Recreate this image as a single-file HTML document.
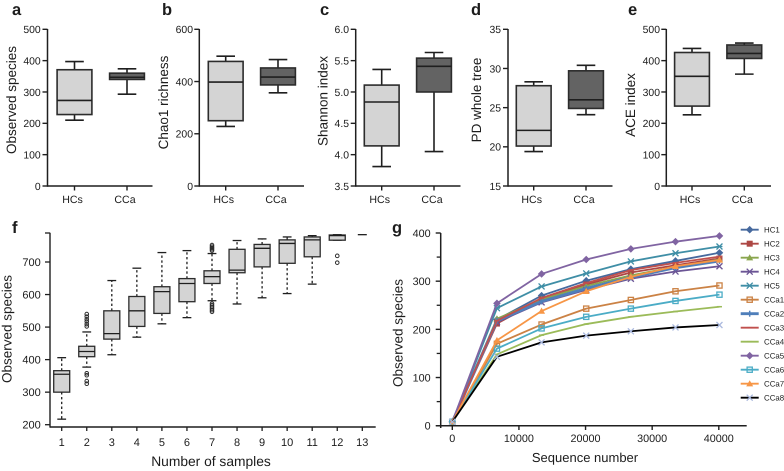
<!DOCTYPE html>
<html>
<head>
<meta charset="utf-8">
<title>Diversity and rarefaction charts</title>
<style>
html,body{margin:0;padding:0;background:#fff;width:784px;height:471px;overflow:hidden}
svg{display:block;filter:blur(0.3px)}
text{font-family:"Liberation Sans",sans-serif;fill:#1c1c1c;text-rendering:geometricPrecision}
</style>
</head>
<body>
<svg id="fig" xmlns="http://www.w3.org/2000/svg" width="784" height="471" viewBox="0 0 784 471"></svg>
<script>
// Box panels: [low whisker, Q1, median, Q3, high whisker]
const boxCategories = ['HCs', 'CCa'];
const aHCs = [210, 228, 273, 371, 397];
const aCCa = [293, 340, 347, 360, 374];
const aTicks = [0, 100, 200, 300, 400, 500];
const aTickLabels = ['0', '100', '200', '300', '400', '500'];
const bHCs = [228, 250, 398, 477, 497];
const bCCa = [357, 387, 417, 452, 484];
const bTicks = [0, 200, 400, 600];
const bTickLabels = ['0', '200', '400', '600'];
const cHCs = [3.81, 4.14, 4.84, 5.11, 5.36];
const cCCa = [4.05, 5.0, 5.41, 5.54, 5.63];
const cTicks = [3.5, 4, 4.5, 5, 5.5, 6];
const cTickLabels = ['3.5', '4.0', '4.5', '5.0', '5.5', '6.0'];
const dHCs = [19.4, 20.1, 22.1, 27.8, 28.3];
const dCCa = [24.1, 24.9, 26.0, 29.7, 30.4];
const dTicks = [15, 20, 25, 30, 35];
const dTickLabels = ['15', '20', '25', '30', '35'];
const eHCs = [227, 255, 350, 426, 439];
const eCCa = [357, 407, 423, 450, 456];
const eTicks = [0, 100, 200, 300, 400, 500];
const eTickLabels = ['0', '100', '200', '300', '400', '500'];

// Panel f
const fCategories = ['1', '2', '3', '4', '5', '6', '7', '8', '9', '10', '11', '12', '13'];
const fLow = [217, 377, 415, 469, 510, 529, 581, 571, 590, 603, 632, 767, 784];
const fQ1 = [300, 409, 463, 502, 542, 578, 634, 667, 685, 696, 716, 767, 784];
const fMed = [355, 425, 480, 550, 609, 634, 655, 675, 742, 757, 768, 781, 784];
const fQ3 = [366, 441, 550, 594, 624, 649, 673, 739, 754, 768, 777, 783, 784];
const fHigh = [406, 485, 643, 681, 729, 735, 726, 766, 771, 777, 781, 784, 784];
const fOutliers = [
  [],
  [326, 334, 352, 358, 502, 509, 517, 524, 532, 540],
  [], [], [], [],
  [547, 552, 557, 562, 567, 572, 735, 739, 743, 747, 752],
  [], [], [], [],
  [698, 719],
  []
];
const fTicks = [200, 300, 400, 500, 600, 700];
const fTickLabels = ['200', '300', '400', '500', '600', '700'];

// Panel g
const gSamples = [0, 6700, 13400, 20100, 26800, 33500, 40100];
const gXTicks = [0, 10000, 20000, 30000, 40000];
const gXTickLabels = ['0', '10000', '20000', '30000', '40000'];
const gYTicks = [0, 100, 200, 300, 400];
const gYTickLabels = ['0', '100', '200', '300', '400'];
const gMinorTicks = [50, 150, 250, 350];
const gNames = ['HC1', 'HC2', 'HC3', 'HC4', 'HC5', 'CCa1', 'CCa2', 'CCa3', 'CCa4', 'CCa5', 'CCa6', 'CCa7', 'CCa8'];
const seriesHC1 = [8, 220, 270, 301, 325, 342, 359];
const seriesHC2 = [8, 212, 262, 293, 318, 333, 347];
const seriesHC3 = [8, 222, 262, 290, 312, 330, 345];
const seriesHC4 = [8, 215, 256, 282, 305, 320, 331];
const seriesHC5 = [8, 244, 289, 316, 341, 358, 372];
const seriesCCa1 = [8, 170, 210, 243, 261, 279, 291];
const seriesCCa2 = [8, 218, 258, 285, 308, 328, 342];
const seriesCCa3 = [8, 218, 265, 296, 323, 338, 351];
const seriesCCa4 = [8, 148, 188, 211, 226, 237, 247];
const seriesCCa5 = [8, 254, 315, 345, 367, 382, 394];
const seriesCCa6 = [8, 160, 202, 226, 243, 259, 272];
const seriesCCa7 = [8, 177, 238, 279, 309, 331, 344];
const seriesCCa8 = [8, 143, 173, 187, 196, 204, 209];

const svg = document.getElementById('fig');
const NS = 'http://www.w3.org/2000/svg';
const INK = '#1f1f1f';

function mk(tag, parent, attrs) {
  const n = document.createElementNS(NS, tag);
  for (const k in attrs) n.setAttribute(k, attrs[k]);
  parent.appendChild(n);
  return n;
}
function line(parent, x1, y1, x2, y2, w, color, dash) {
  const a = {x1: x1, y1: y1, x2: x2, y2: y2, stroke: color || INK, 'stroke-width': w || 1.3};
  if (dash) a['stroke-dasharray'] = dash;
  const n = mk('line', parent, a);
  
  return n;
}
function label(parent, str, x, y, size, anchor, weight, rotate) {
  const a = {x: x, y: y, 'font-size': size, 'text-anchor': anchor || 'middle'};
  if (weight) a['font-weight'] = weight;
  if (rotate) a.transform = 'rotate(-90 ' + x + ' ' + y + ')';
  const n = mk('text', parent, a);
  n.textContent = str;
  
  return n;
}
function linear(d0, d1, r0, r1) {
  return function (v) { return r0 + (v - d0) * (r1 - r0) / (d1 - d0); };
}

function drawBox(parent, cx, yS, s, hw, capw, fill, sw, dash) {
  const low = s[0], q1 = s[1], med = s[2], q3 = s[3], high = s[4];
  const wLow = line(parent, cx, yS(q1), cx, yS(low), sw, INK, dash);
  
  const wHigh = line(parent, cx, yS(q3), cx, yS(high), sw, INK, dash);
  
  const c1 = line(parent, cx - capw / 2, yS(low), cx + capw / 2, yS(low), sw);
  
  const c2 = line(parent, cx - capw / 2, yS(high), cx + capw / 2, yS(high), sw);
  
  const r = mk('rect', parent, {x: cx - hw, y: yS(q3), width: hw * 2, height: Math.max(yS(q1) - yS(q3), 0.5), fill: fill, stroke: '#2c2c2c', 'stroke-width': sw});
  
  
  const m = line(parent, cx - hw, yS(med), cx + hw, yS(med), sw);
  
}

function boxPanel(name, letter, letterX, axisX, endX, title, titleX, titleY, ticks, tickLabels, dom, series, catX, labelRight) {
  const g = mk('g', svg, {});
  
  
  const yS = linear(dom[0], dom[1], 186, 29.3);
  const pl = label(g, letter, letterX, 15, 16.5, 'start', 'bold');
  
  const ya = line(g, axisX, 29, axisX, 186.7, 1.5);
  
  const xa = line(g, axisX, 186, endX, 186, 1.5);
  
  ticks.forEach(function (t, i) {
    const tk = line(g, axisX - 5, yS(t), axisX, yS(t), 1.4);
    
    const tl = label(g, tickLabels[i], labelRight, yS(t) + 3.8, 10.4, 'end');
    
  });
  const yt = label(g, title, titleX, titleY, 13.5, 'middle', null, true);
  
  boxCategories.forEach(function (c, i) {
    const tk = line(g, catX[i], 186, catX[i], 190.5, 1.4);
    
    const tl = label(g, c, catX[i] - 2, 203, 10.6);
    
    const bg = mk('g', g, {});
    
    
    drawBox(bg, catX[i], yS, series[i], 17.4, 18.6, i === 0 ? '#d4d4d4' : '#636363', 1.6);
  });
}

boxPanel('panel-a-observed-species', 'a', 12, 47.5, 152.5, 'Observed species', 16, 100, aTicks, aTickLabels, [0, 500], [aHCs, aCCa], [74.5, 127], 40.7);
boxPanel('panel-b-chao1-richness', 'b', 162, 199.3, 304, 'Chao1 richness', 168, 102.5, bTicks, bTickLabels, [0, 600], [bHCs, bCCa], [225.7, 278], 193);
boxPanel('panel-c-shannon-index', 'c', 320, 355.7, 460.5, 'Shannon index', 327.5, 101, cTicks, cTickLabels, [3.5, 6], [cHCs, cCCa], [381.7, 434], 349);
boxPanel('panel-d-pd-whole-tree', 'd', 471, 508, 612.5, 'PD whole tree', 481, 100, dTicks, dTickLabels, [15, 35], [dHCs, dCCa], [533.7, 586], 501);
boxPanel('panel-e-ace-index', 'e', 628, 666.3, 771, 'ACE index', 635, 105, eTicks, eTickLabels, [0, 500], [eHCs, eCCa], [692, 744.3], 660);

// Panel f
(function () {
  const g = mk('g', svg, {});
  
  
  const yS = linear(200, 700, 424.7, 262);
  const xS = function (i) { return 61.7 + 25.05 * i; };
  const pl = label(g, 'f', 12, 233, 16.5, 'start', 'bold');
  
  const ya = line(g, 50, 232.7, 50, 427.6, 1.4);
  
  const xa = line(g, 50, 427, 375.7, 427, 1.4);
  
  const top = line(g, 45, 233, 50, 233, 1.3);
  
  fTicks.forEach(function (t, i) {
    const tk = line(g, 45, yS(t), 50, yS(t), 1.3);
    
    const tl = label(g, fTickLabels[i], 40.7, yS(t) + 4, 11, 'end');
    
  });
  const yt = label(g, 'Observed species', 11.5, 329, 13.5, 'middle', null, true);
  
  const xt = label(g, 'Number of samples', 211, 466, 13.8);
  
  fCategories.forEach(function (c, i) {
    const cx = xS(i);
    const tk = line(g, cx, 427, cx, 431, 1.3);
    
    const tl = label(g, c, cx, 446, 11);
    
    const bg = mk('g', g, {});
    
    
    if (i === 12) {
      const only = line(bg, cx - 4.5, yS(fMed[i]), cx + 4.5, yS(fMed[i]), 1.3);
      
    } else {
      drawBox(bg, cx, yS, [fLow[i], fQ1[i], fMed[i], fQ3[i], fHigh[i]], 8, 8.8, '#d4d4d4', 1.3, '2.4 2.4');
    }
    fOutliers[i].forEach(function (v) {
      const o = mk('circle', bg, {cx: cx, cy: yS(v), r: 1.8, fill: 'none', stroke: '#2c2c2c', 'stroke-width': 1});
      
      
    });
  });
})();

// Panel g
const gColors = ['#46699e', '#ad4744', '#8aa64e', '#6b5595', '#3f8ea6', '#cb8245', '#4f7fba', '#c0504d', '#9bbb59', '#8064a2', '#4bacc6', '#f79646', '#000000'];
const gMarkers = ['diamond', 'square', 'triangle', 'cross', 'star', 'hollow', 'plus', 'dash', 'dash', 'diamond', 'hollow', 'triangle', 'xlight'];
const gWidths = [1.8, 1.8, 1.8, 1.8, 1.8, 1.8, 2.8, 1.8, 1.8, 1.8, 1.8, 1.8, 1.8];
const gSeries = [seriesHC1, seriesHC2, seriesHC3, seriesHC4, seriesHC5, seriesCCa1, seriesCCa2, seriesCCa3, seriesCCa4, seriesCCa5, seriesCCa6, seriesCCa7, seriesCCa8];

function marker(parent, kind, x, y, color) {
  let n;
  const s = 3;
  if (kind === 'diamond') {
    n = mk('polygon', parent, {points: [x, y - s - .8, x + s + .8, y, x, y + s + .8, x - s - .8, y].join(','), fill: color});
  } else if (kind === 'square') {
    n = mk('rect', parent, {x: x - s, y: y - s, width: s * 2, height: s * 2, fill: color});
  } else if (kind === 'hollow') {
    n = mk('rect', parent, {x: x - s + .4, y: y - s + .4, width: s * 2 - .8, height: s * 2 - .8, fill: 'none', stroke: color, 'stroke-width': 1.3});
  } else if (kind === 'triangle') {
    n = mk('polygon', parent, {points: [x, y - s - .5, x + s + .5, y + s - .3, x - s - .5, y + s - .3].join(','), fill: color});
  } else if (kind === 'cross' || kind === 'xlight' || kind === 'star') {
    const c = kind === 'xlight' ? '#aab9de' : color;
    const d = 'M' + (x - s) + ' ' + (y - s) + 'L' + (x + s) + ' ' + (y + s) + 'M' + (x + s) + ' ' + (y - s) + 'L' + (x - s) + ' ' + (y + s) +
      (kind === 'star' ? 'M' + (x - s) + ' ' + y + 'L' + (x + s) + ' ' + y : '');
    n = mk('path', parent, {d: d, fill: 'none', stroke: c, 'stroke-width': 1.3});
  } else if (kind === 'plus') {
    n = mk('path', parent, {d: 'M' + x + ' ' + (y - s) + 'V' + (y + s), fill: 'none', stroke: color, 'stroke-width': 1.5});
  } else {
    n = mk('path', parent, {d: 'M' + (x - 2.5) + ' ' + y + 'H' + (x + 2.5), fill: 'none', stroke: color, 'stroke-width': 1.5});
  }
  
  return n;
}

(function () {
  const g = mk('g', svg, {});
  
  
  const xS = linear(0, 40000, 452.3, 718.8);
  const yS = linear(0, 400, 425.7, 233);
  const pl = label(g, 'g', 392, 233, 16.5, 'start', 'bold');
  

  gNames.forEach(function (nm, si) {
    const sg = mk('g', g, {});
    
    
    const pts = gSamples.map(function (x, i) { return xS(x) + ',' + yS(gSeries[si][i]); }).join(' ');
    const pll = mk('polyline', sg, {points: pts, fill: 'none', stroke: gColors[si], 'stroke-width': gWidths[si], 'stroke-linejoin': 'round'});
    
    
    gSamples.forEach(function (x, i) {
      const m = marker(sg, gMarkers[si], xS(x), yS(gSeries[si][i]), gColors[si]);
      
    });
  });

  const ya = line(g, 440.7, 233, 440.7, 428, 1.5);
  
  const xa = line(g, 436, 425.7, 746.7, 425.7, 1.5);
  
  gYTicks.forEach(function (t, i) {
    const tk = line(g, 435.7, yS(t), 440.7, yS(t), 1.4);
    
    const tl = label(g, gYTickLabels[i], 430.7, yS(t) + 3.9, 10.8, 'end');
    
  });
  gMinorTicks.forEach(function (t) {
    const tk = line(g, 436.7, yS(t), 440.7, yS(t), 1.3);
    
  });
  gXTicks.forEach(function (t, i) {
    const tk = line(g, xS(t), 425.7, xS(t), 430, 1.4);
    
    const tl = label(g, gXTickLabels[i], xS(t), 442, 10.8);
    
  });
  const yt = label(g, 'Observed species', 402.3, 333, 13.5, 'middle', null, true);
  
  const xt = label(g, 'Sequence number', 585, 462, 13);
  

  const lg = mk('g', g, {});
  
  
  gNames.forEach(function (nm, si) {
    const y = 229.7 + 14 * si;
    const eg = mk('g', lg, {});
    
    
    const ll = line(eg, 740.7, y, 758.7, y, gWidths[si], gColors[si]);
    
    const lm = marker(eg, gMarkers[si], 749.7, y, gColors[si]);
    
    const lt = label(eg, nm, 764, y + 2.9, 7.9, 'start');
    
  });
})();
</script>
</body>
</html>
